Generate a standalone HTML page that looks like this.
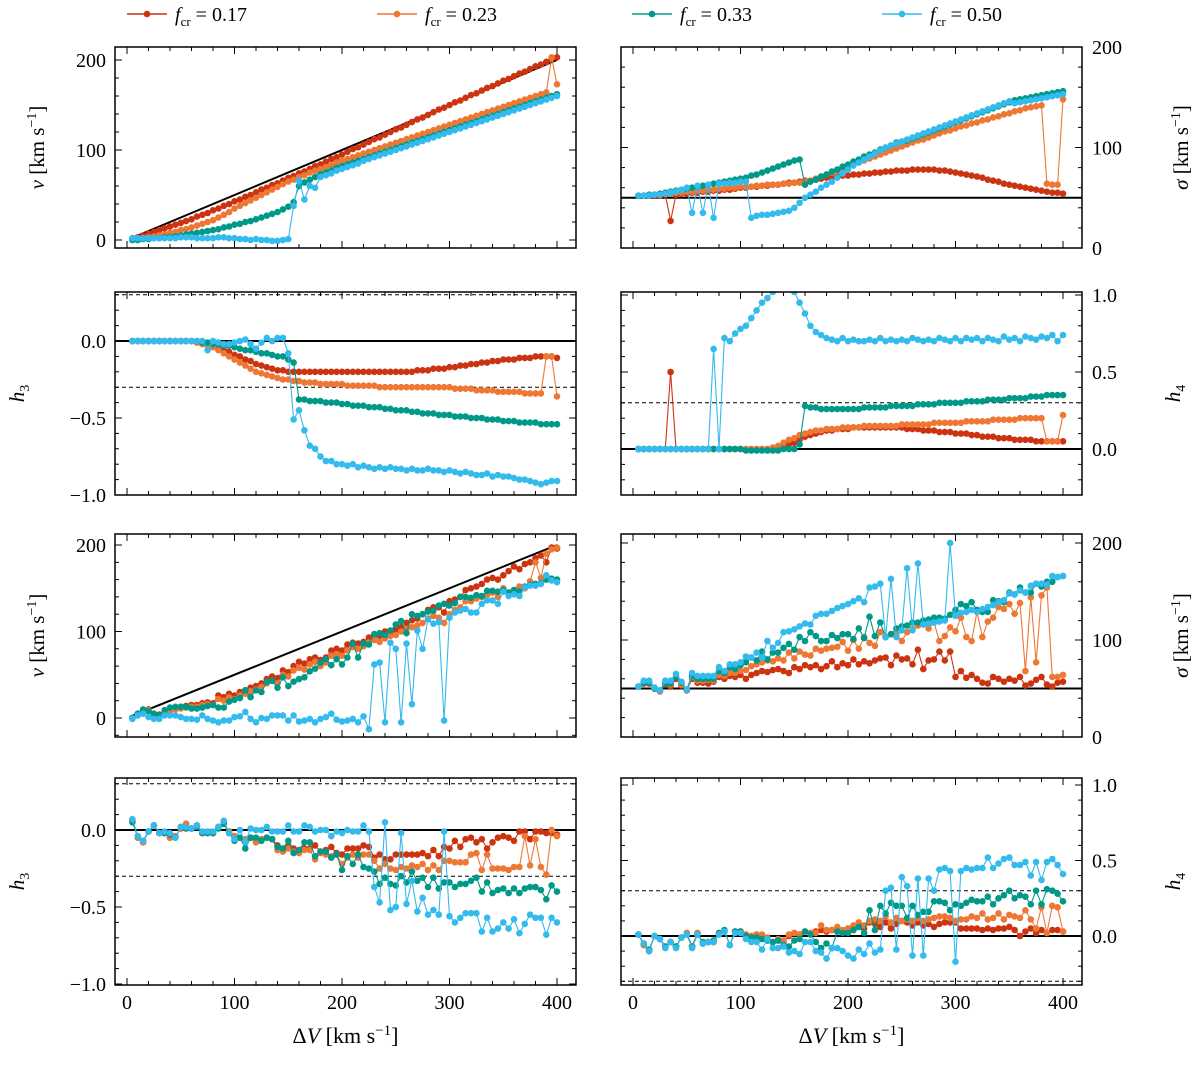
<!DOCTYPE html>
<html><head><meta charset="utf-8"><style>
body{margin:0;background:#fff}
svg text{font-family:"Liberation Serif",serif;fill:#000}
</style></head><body>
<svg id="fig" width="1200" height="1060" viewBox="0 0 1200 1060" xmlns="http://www.w3.org/2000/svg">
<g id="legend"></g>
<g id="panels"></g>
</svg>
<script>
const xs = [];
for (let i = 1; i <= 80; i++) xs.push(5 * i);
const seriesNames = ["0.17", "0.23", "0.33", "0.50"];
const colors = ["#cc3311", "#ee7733", "#009988", "#33bbee"];

// Panel 1: v (top left)
const p1_red = [2,3,5,7,9,11,13,15,17,19,21,23,26,28,30,33,35,38,40,43,45,48,50,53,56,58,61,63,66,69,71,74,76,79,82,84,87,90,92,95,98,101,103,106,109,112,114,117,120,123,125,128,131,134,136,139,142,145,147,150,153,155,158,161,163,166,169,171,174,177,179,182,185,187,190,193,195,198,201,203];
const p1_orange = [1,1,2,3,4,5,6,8,9,11,12,14,16,18,20,22,25,28,31,35,38,41,44,47,50,53,56,59,62,65,67,70,72,75,77,79,81,83,86,88,90,92,94,96,98,100,102,104,106,108,110,112,114,116,118,120,122,124,126,128,130,132,134,136,138,140,142,144,146,148,150,152,154,156,158,160,162,164,203,173];
const p1_teal = [0,0,1,1,2,2,3,3,4,5,6,7,8,9,10,11,12,14,15,17,18,20,21,23,25,27,29,31,34,37,42,60,64,67,70,73,75,77,80,82,84,86,88,90,92,94,96,98,100,102,104,106,108,110,112,114,116,118,120,122,124,126,128,130,132,134,136,138,140,142,144,146,148,150,152,154,156,158,160,162];
const p1_blue = [2,2,2,2,2,2,2,2,2,3,3,3,2,2,2,2,3,3,2,2,1,1,0,1,0,0,-1,-1,0,1,38,66,45,60,58,70,72,74,77,79,81,83,85,88,90,92,94,96,98,100,102,104,106,108,110,112,114,116,118,120,122,124,126,128,130,132,134,136,138,140,142,144,146,148,150,152,154,156,158,160];
// Panel 2: sigma (top right)
const p2_red = [52,52,52,52,52,53,27,53,54,54,55,55,56,56,57,57,58,58,59,60,60,61,61,62,62,63,63,64,65,65,66,67,67,68,69,70,70,71,72,72,73,73,74,74,75,75,76,76,77,77,77,78,78,78,78,78,77,77,76,75,74,73,72,71,70,68,67,66,64,63,62,61,60,59,58,57,56,55,55,54];
const p2_orange = [52,52,52,53,53,54,54,55,55,56,56,57,57,58,58,59,59,60,60,61,61,61,62,62,63,63,63,64,64,65,65,66,67,69,71,73,75,77,79,81,83,85,87,89,91,93,95,97,99,101,103,105,107,108,110,112,114,116,117,119,121,122,124,125,127,128,130,131,133,134,136,137,139,140,141,142,64,63,63,148];
const p2_teal = [52,52,53,53,54,55,56,57,58,59,60,61,62,63,64,65,66,67,68,69,70,72,73,75,77,79,81,83,85,87,88,63,66,68,71,73,76,78,81,83,86,88,91,93,95,98,100,102,105,106,107,109,111,113,115,117,119,121,123,125,127,129,131,133,135,137,139,141,143,145,147,148,149,150,151,152,153,154,155,156];
const p2_blue = [52,52,52,53,53,54,55,56,58,60,35,62,35,63,30,64,64,65,65,66,66,30,32,33,33,34,35,36,37,40,45,50,53,56,60,63,66,70,74,78,82,85,88,91,94,97,100,102,104,106,108,110,112,114,116,118,120,122,124,126,128,130,132,134,136,138,140,142,144,146,144,145,146,147,148,149,150,151,152,153];
// Panel 3: h3 (row 2 left)
const p3_red = [0,0,0,0,0,0,0,0,0,0,0,0,-.01,-.01,-.02,-.03,-.04,-.06,-.07,-.09,-.1,-.12,-.13,-.15,-.16,-.17,-.18,-.19,-.19,-.2,-.2,-.2,-.2,-.2,-.2,-.2,-.2,-.2,-.2,-.2,-.2,-.2,-.2,-.2,-.2,-.2,-.2,-.2,-.2,-.2,-.2,-.2,-.2,-.19,-.19,-.19,-.18,-.18,-.18,-.17,-.17,-.16,-.16,-.15,-.15,-.14,-.14,-.13,-.13,-.12,-.12,-.12,-.11,-.11,-.11,-.1,-.1,-.1,-.1,-.11];
const p3_orange = [0,0,0,0,0,0,0,0,0,0,0,0,-.01,-.02,-.03,-.04,-.06,-.08,-.1,-.12,-.14,-.16,-.18,-.2,-.21,-.22,-.23,-.24,-.25,-.25,-.26,-.26,-.27,-.27,-.27,-.28,-.28,-.28,-.28,-.28,-.29,-.29,-.29,-.29,-.29,-.29,-.3,-.3,-.3,-.3,-.3,-.3,-.3,-.3,-.3,-.3,-.3,-.3,-.3,-.3,-.31,-.31,-.31,-.31,-.32,-.32,-.32,-.32,-.33,-.33,-.33,-.33,-.33,-.34,-.34,-.34,-.34,-.1,-.1,-.36];
const p3_teal = [0,0,0,0,0,0,0,0,0,0,0,0,0,-.01,-.01,-.02,-.02,-.03,-.03,-.04,-.05,-.06,-.06,-.07,-.08,-.08,-.09,-.1,-.1,-.12,-.14,-.38,-.38,-.39,-.39,-.39,-.4,-.4,-.4,-.41,-.41,-.42,-.42,-.42,-.43,-.43,-.43,-.44,-.44,-.45,-.45,-.45,-.46,-.46,-.47,-.47,-.47,-.48,-.48,-.48,-.49,-.49,-.49,-.5,-.5,-.5,-.51,-.51,-.51,-.52,-.52,-.52,-.53,-.53,-.53,-.53,-.54,-.54,-.54,-.54];
const p3_blue = [0,0,0,0,0,0,0,0,0,0,0,0,0,0,-.06,0,-.01,-.02,-.02,-.01,0,.01,-.02,-.05,-.01,.02,0,.02,.02,-.08,-.51,-.45,-.58,-.68,-.7,-.75,-.78,-.78,-.8,-.8,-.81,-.8,-.82,-.81,-.82,-.83,-.82,-.83,-.82,-.83,-.83,-.84,-.83,-.84,-.84,-.83,-.84,-.84,-.85,-.84,-.85,-.86,-.85,-.86,-.87,-.87,-.86,-.88,-.87,-.88,-.88,-.89,-.9,-.9,-.91,-.92,-.93,-.92,-.91,-.91];
// Panel 4: h4 (row 2 right)
const p4_red = [0,0,0,0,0,0,.5,0,0,0,0,0,0,0,0,0,0,0,0,0,0,0,0,0,0,0,.01,.02,.03,.04,.06,.08,.09,.1,.11,.12,.12,.13,.13,.13,.14,.14,.14,.14,.14,.14,.14,.14,.14,.14,.13,.13,.13,.12,.12,.12,.11,.11,.11,.1,.1,.1,.09,.09,.08,.08,.08,.07,.07,.07,.06,.06,.06,.06,.05,.05,.05,.05,.05,.05];
const p4_orange = [0,0,0,0,0,0,0,0,0,0,0,0,0,0,0,0,0,0,0,0,0,0,0,0,0,.01,.02,.04,.06,.07,.09,.1,.11,.12,.12,.13,.13,.13,.14,.14,.14,.14,.15,.15,.15,.15,.15,.15,.15,.16,.16,.16,.16,.16,.16,.17,.17,.17,.17,.17,.17,.18,.18,.18,.18,.18,.19,.19,.19,.19,.19,.2,.2,.2,.2,.2,.05,.05,.05,.22];
const p4_teal = [0,0,0,0,0,0,0,0,0,0,0,0,0,0,0,0,0,0,0,0,-.01,-.01,-.01,-.01,-.01,-.01,-.01,0,0,0,.03,.28,.27,.27,.26,.26,.26,.26,.26,.26,.26,.26,.27,.27,.27,.27,.27,.28,.28,.28,.28,.28,.29,.29,.29,.29,.3,.3,.3,.3,.3,.31,.31,.31,.31,.32,.32,.32,.32,.33,.33,.33,.33,.34,.34,.34,.35,.35,.35,.35];
const p4_blue = [0,0,0,0,0,0,0,0,0,0,0,0,0,0,.65,0,.72,.7,.75,.78,.8,.85,.9,.95,.98,1.02,1.05,1.05,1.05,1.02,.95,.88,.8,.76,.74,.72,.71,.7,.72,.7,.71,.7,.7,.71,.7,.72,.7,.71,.7,.71,.7,.72,.71,.7,.71,.7,.72,.71,.7,.72,.7,.72,.71,.72,.7,.72,.71,.7,.73,.71,.72,.7,.73,.72,.71,.73,.72,.74,.7,.74];
// Panel 5: v (row 3 left)
const p5_red = [0,5,8,10,5,4,7,10,12,13,14,15,15,17,18,17,26,24,28,26,30,32,35,37,40,45,48,46,55,53,60,65,63,68,70,67,70,78,80,78,85,87,86,88,93,96,95,100,100,102,105,110,113,115,120,125,128,128,122,135,137,140,148,150,152,155,160,162,160,165,170,175,172,178,180,185,188,180,197,196];
const p5_orange = [0,4,7,9,4,3,6,8,10,11,12,13,13,15,16,15,22,20,24,22,26,28,31,33,36,40,43,40,50,48,55,58,56,62,65,60,64,72,74,72,78,82,80,83,87,90,88,92,95,96,100,103,105,107,110,115,118,116,110,120,125,128,135,135,138,140,142,145,140,150,145,148,152,150,158,180,162,190,195,197];
const p5_teal = [0,5,10,8,5,3,9,12,13,13,13,11,11,12,14,15,12,12,19,21,23,32,24,32,30,42,43,35,47,37,42,45,47,54,57,64,68,61,68,62,70,86,70,86,85,97,98,96,101,108,112,98,120,118,120,123,124,130,132,130,133,140,140,139,142,141,147,147,146,148,145,148,146,152,154,155,156,160,161,160];
const p5_blue = [-1,3,5,1,-1,-1,3,3,3,1,-1,-1,-2,3,-1,-3,-5,-3,-3,1,2,7,-1,-5,0,-1,3,3,3,-3,3,-4,-3,-1,-5,-1,1,5,-2,-4,-3,-1,-5,2,-13,62,64,-5,87,80,-5,86,16,101,80,114,109,111,-3,116,122,124,126,122,122,132,136,136,132,146,141,143,141,151,153,153,155,165,159,157];
// Panel 6: sigma (row 3 right)
const p6_red = [52,55,55,50,47,54,52,60,53,48,60,56,56,55,57,62,60,63,62,64,60,64,66,68,67,69,70,68,66,72,70,74,72,74,70,73,78,72,76,74,80,75,78,76,79,81,82,74,84,80,81,75,90,70,79,80,88,79,88,62,68,61,64,60,56,55,62,60,57,60,58,62,53,55,59,62,54,52,56,57];
const p6_orange = [52,56,56,50,47,55,54,62,54,48,62,58,58,59,58,64,63,66,66,68,69,73,75,77,79,78,81,79,87,81,88,85,84,91,89,91,92,93,98,89,100,91,103,97,94,108,103,106,106,99,108,111,115,117,112,118,99,104,113,109,123,103,99,129,103,119,123,134,132,137,127,138,68,144,77,146,154,62,62,64];
const p6_teal = [52,56,56,50,48,55,55,62,56,49,63,60,60,60,60,68,66,72,70,74,77,82,79,88,80,87,87,92,96,90,103,99,108,104,99,99,105,102,106,106,101,112,102,124,104,118,103,106,112,114,115,118,118,120,121,123,123,122,126,131,137,135,139,131,129,129,141,140,139,149,147,154,149,149,158,155,160,160,165,166];
const p6_blue = [52,58,58,51,48,58,58,65,57,49,66,63,63,63,63,72,68,75,75,77,83,82,87,82,99,92,97,108,109,111,114,117,116,125,127,127,130,133,135,137,140,143,139,154,155,158,103,163,103,110,174,110,179,116,117,118,119,120,200,125,128,129,131,129,132,134,136,139,141,148,147,151,149,156,158,158,157,166,165,166];
// Panel 7: h3 (bottom left)
const p7_red = [.06,-.05,-.08,-.01,.03,-.02,-.02,-.05,-.04,.01,.04,.01,.03,-.02,-.02,-.02,.02,.04,-.01,-.04,-.05,-.06,-.05,-.07,-.06,-.05,-.06,-.1,-.12,-.1,-.12,-.14,-.12,-.12,-.1,-.14,-.13,-.11,-.15,-.16,-.12,-.12,-.12,-.1,-.11,-.18,-.16,-.19,-.19,-.16,-.16,-.16,-.16,-.16,-.15,-.17,-.13,-.17,-.11,-.12,-.07,-.11,-.06,-.05,-.08,-.06,-.12,-.08,-.05,-.04,-.05,-.07,-.01,-.01,-.06,-.01,-.01,-.02,-.02,-.03];
const p7_orange = [.06,-.05,-.08,-.01,.03,-.02,-.02,-.05,-.04,.01,.04,.01,.03,-.02,-.02,-.02,.02,.04,-.01,-.04,-.05,-.06,-.05,-.08,-.06,-.05,-.06,-.13,-.14,-.12,-.14,-.15,-.13,-.13,-.19,-.15,-.16,-.17,-.16,-.22,-.18,-.16,-.18,-.16,-.16,-.2,-.25,-.22,-.25,-.26,-.24,-.25,-.23,-.24,-.22,-.26,-.23,-.26,-.2,-.2,-.21,-.21,-.21,-.16,-.15,-.26,-.16,-.25,-.25,-.25,-.26,-.24,-.24,-.04,-.23,-.06,-.24,-.29,0,-.04];
const p7_teal = [.05,-.04,-.07,-.01,.03,-.02,-.02,-.03,-.05,.02,.01,.01,.02,-.02,-.02,-.02,.01,.04,-.02,-.07,-.05,-.12,-.05,-.05,-.07,-.05,-.06,-.11,-.12,-.07,-.15,-.13,-.08,-.08,-.17,-.14,-.14,-.18,-.16,-.26,-.17,-.22,-.16,-.24,-.25,-.27,-.35,-.31,-.35,-.36,-.3,-.34,-.27,-.33,-.31,-.37,-.31,-.38,-.34,-.34,-.37,-.35,-.35,-.33,-.31,-.4,-.34,-.41,-.39,-.38,-.41,-.38,-.41,-.38,-.37,-.37,-.39,-.45,-.36,-.4];
const p7_blue = [.07,-.04,-.07,-.01,.03,-.02,-.01,-.02,-.05,.02,.02,.01,.03,-.01,-.01,-.01,.02,.06,-.02,-.06,0,-.08,.01,0,0,.02,-.01,-.01,-.01,.03,-.01,-.01,.03,.02,-.01,0,0,-.04,-.01,-.02,0,-.01,-.01,.03,-.01,-.37,-.47,.05,-.52,-.5,-.02,-.48,-.33,-.53,-.44,-.55,-.52,-.55,-.01,-.56,-.6,-.57,-.54,-.54,-.54,-.66,-.57,-.66,-.64,-.6,-.64,-.58,-.67,-.61,-.55,-.57,-.57,-.68,-.57,-.6];
// Panel 8: h4 (bottom right)
const p8_red = [.01,-.06,-.1,0,-.02,-.07,-.04,-.07,-.01,.02,-.07,.02,-.05,-.04,-.04,.02,.03,-.06,.03,.03,.01,0,.01,0,-.02,-.04,-.03,-.04,0,.02,.01,.03,.02,.03,.04,.03,.04,.03,.03,.05,.04,.06,.05,.09,.08,.06,.09,.05,.08,.1,.09,.07,.09,.07,.08,.06,.08,.09,.09,.09,.05,.05,.05,.05,.04,.05,.04,.05,.05,.06,.04,0,.03,.05,.02,.04,.02,.04,.04,.03];
const p8_orange = [.01,-.06,-.1,0,-.02,-.07,-.04,-.07,-.01,.02,-.07,.02,-.05,-.04,-.04,.02,.03,-.06,.03,.03,.01,0,.01,.01,-.01,-.04,-.02,-.03,.01,.02,.01,.03,.02,.02,.07,.04,.04,.06,.04,.05,.07,.09,.07,.1,.11,.1,.13,.09,.12,.1,.11,.1,.12,.1,.11,.12,.13,.13,.12,.1,.11,.11,.13,.12,.15,.11,.12,.15,.11,.14,.13,.12,.17,.11,.05,.19,.02,.2,.19,.03];
const p8_teal = [.01,-.05,-.09,0,-.02,-.07,-.04,-.07,-.01,.01,-.07,.01,-.04,-.04,-.03,.02,.04,-.06,.03,.03,0,-.01,-.01,-.02,-.03,-.04,-.03,-.06,-.07,-.03,-.02,.03,.01,-.04,-.08,-.05,-.08,.03,.02,.02,.04,.06,.02,.17,.04,.2,.15,.22,.2,.2,.12,.2,.14,.16,.16,.23,.23,.22,.17,.21,.2,.22,.24,.23,.23,.26,.21,.25,.27,.3,.25,.27,.26,.21,.3,.21,.31,.3,.28,.23];
const p8_blue = [.01,-.05,-.1,0,-.02,-.08,-.04,-.08,-.01,.01,-.08,.01,-.05,-.04,-.04,.01,.03,-.06,.02,.02,-.02,-.04,-.04,-.09,-.02,-.08,-.08,-.07,-.11,-.1,-.12,-.04,-.04,-.1,-.11,-.15,-.08,-.08,-.1,-.13,-.15,-.09,-.12,-.05,-.11,-.09,.3,.32,-.09,.39,.33,-.13,.38,-.13,.38,.3,.44,.45,.43,-.17,.43,.45,.44,.45,.45,.52,.45,.48,.51,.52,.47,.47,.49,.4,.49,.37,.49,.51,.47,.41];

const xTicks = [0, 100, 200, 300, 400];
const vTicks = [0, 100, 200];
const h3Ticks = [-1.0, -0.5, 0.0];
const h4Ticks = [0.0, 0.5, 1.0];

const NS = "http://www.w3.org/2000/svg";
function mk(tag, attrs, parent) {
  const e = document.createElementNS(NS, tag);
  for (const k in attrs) e.setAttribute(k, attrs[k]);
  if (parent) parent.appendChild(e);
  return e;
}

const panels = [
  {id:"v-top-left", L:115, T:47, B:248, y0:240, k:0.9, data:[p1_red,p1_orange,p1_teal,p1_blue], ticks:vTicks, minor:20, right:false, kind:"v", fmt:v=>String(v)},
  {id:"sigma-top-right", L:621, T:47, B:248, y0:248, k:1.005, data:[p2_red,p2_orange,p2_teal,p2_blue], ticks:vTicks, minor:20, right:true, kind:"s", fmt:v=>String(v)},
  {id:"h3-row2-left", L:115, T:292, B:495, y0:341, k:154, data:[p3_red,p3_orange,p3_teal,p3_blue], ticks:h3Ticks, minor:0.1, right:false, kind:"h3", fmt:v=>(v<0?"\u2212":"")+Math.abs(v).toFixed(1)},
  {id:"h4-row2-right", L:621, T:292, B:495, y0:449, k:154, data:[p4_red,p4_orange,p4_teal,p4_blue], ticks:h4Ticks, minor:0.1, right:true, kind:"h4", fmt:v=>v.toFixed(1)},
  {id:"v-row3-left", L:115, T:534, B:737, y0:718, k:0.865, data:[p5_red,p5_orange,p5_teal,p5_blue], ticks:vTicks, minor:20, right:false, kind:"v", fmt:v=>String(v)},
  {id:"sigma-row3-right", L:621, T:534, B:737, y0:737, k:0.97, data:[p6_red,p6_orange,p6_teal,p6_blue], ticks:vTicks, minor:20, right:true, kind:"s", fmt:v=>String(v)},
  {id:"h3-bottom-left", L:115, T:778, B:985, y0:830, k:154, data:[p7_red,p7_orange,p7_teal,p7_blue], ticks:h3Ticks, minor:0.1, right:false, kind:"h3", fmt:v=>(v<0?"\u2212":"")+Math.abs(v).toFixed(1), bottom:true},
  {id:"h4-bottom-right", L:621, T:778, B:985, y0:936, k:151, data:[p8_red,p8_orange,p8_teal,p8_blue], ticks:h4Ticks, minor:0.1, right:true, kind:"h4", fmt:v=>v.toFixed(1), bottom:true},
];
const W = 461;
const root = document.getElementById("panels");
const defs = mk("defs", {}, document.getElementById("fig"));

panels.forEach((p, pi) => {
  const xS = v => p.L + 12 + v * 1.075;
  const yS = v => p.y0 - v * p.k;
  const g = mk("g", {}, root);
  
  
  const cp = mk("clipPath", {id:"cp" + pi}, defs);
  mk("rect", {x:p.L, y:p.T, width:W, height:p.B - p.T}, cp);
  const plot = mk("g", {"clip-path":"url(#cp" + pi + ")"}, g);
  if (p.kind === "v") {
    const ln = mk("line", {x1:xS(5), y1:yS(2.5), x2:xS(400), y2:yS(200), stroke:"#000", "stroke-width":2}, plot);
    
    
  } else if (p.kind === "s") {
    const ln = mk("line", {x1:p.L, y1:yS(50), x2:p.L + W, y2:yS(50), stroke:"#000", "stroke-width":2}, plot);
    
    
  } else {
    const ln = mk("line", {x1:p.L, y1:yS(0), x2:p.L + W, y2:yS(0), stroke:"#000", "stroke-width":2}, plot);
    
    
    [-0.3, 0.3].forEach(d => {
      const dl = mk("line", {x1:p.L, y1:yS(d), x2:p.L + W, y2:yS(d), stroke:"#000", "stroke-width":1, "stroke-dasharray":"4,3"}, plot);
      
      
    });
  }
  p.data.forEach((arr, si) => {
    const sg = mk("g", {}, plot);
    
    
    const pts = arr.map((v, i) => xS(xs[i]).toFixed(1) + "," + yS(v).toFixed(1)).join(" ");
    mk("polyline", {points:pts, fill:"none", stroke:colors[si], "stroke-width":1.1}, sg);
    arr.forEach((v, i) => {
      const c = mk("circle", {cx:xS(xs[i]).toFixed(1), cy:yS(v).toFixed(1), r:3.3, fill:colors[si]}, sg);
      
      
    });
  });
  const fr = mk("rect", {x:p.L, y:p.T, width:W, height:p.B - p.T, fill:"none", stroke:"#000", "stroke-width":1.5}, g);
  
  
  const tk = mk("g", {stroke:"#000", "stroke-width":1}, g);
  for (let v = 0; v <= 410; v += 20) {
    const X = xS(v); if (X < p.L || X > p.L + W) continue;
    const len = v % 100 === 0 ? 7 : 4;
    mk("line", {x1:X, y1:p.B, x2:X, y2:p.B - len}, tk);
    mk("line", {x1:X, y1:p.T, x2:X, y2:p.T + len}, tk);
  }
  if (p.bottom) {
    xTicks.forEach(v => {
      const t = mk("text", {x:xS(v), y:p.B + 24, "font-size":20, "text-anchor":"middle"}, g);
      t.textContent = String(v);
      
      
    });
  }
  const lo = (p.y0 - p.B) / p.k, hi = (p.y0 - p.T) / p.k;
  const st = Math.ceil(lo / p.minor - 1e-6);
  for (let n = st; n * p.minor <= hi + 1e-9; n++) {
    const v = n * p.minor;
    const major = p.ticks.some(t => Math.abs(t - v) < 1e-6) || (p.kind.startsWith("h") ? Math.abs(v / 0.5 - Math.round(v / 0.5)) < 1e-6 : Math.abs(v % 100) < 1e-6);
    const len = major ? 7 : 4;
    const Y = yS(v);
    mk("line", {x1:p.L, y1:Y, x2:p.L + len, y2:Y}, tk);
    mk("line", {x1:p.L + W, y1:Y, x2:p.L + W - len, y2:Y}, tk);
  }
  p.ticks.forEach(v => {
    const t = mk("text", {x:p.right ? p.L + W + 10 : p.L - 9, y:yS(v) + 7, "font-size":20, "text-anchor":p.right ? "start" : "end"}, g);
    t.textContent = p.fmt(v);
    
    
  });
  const cy = (p.T + p.B) / 2;
  const tx = p.right ? (p.kind === "s" ? 1188 : 1180) : (p.kind === "v" ? 44 : 24);
  const t = mk("text", {x:tx, y:cy, "font-size":21, "text-anchor":"middle", transform:"rotate(-90 " + tx + " " + cy + ")"}, g);
  
  
  if (p.kind === "v") t.innerHTML = '<tspan font-style="italic">v</tspan> [km s<tspan dy="-8" font-size="14">\u22121</tspan><tspan dy="8">]</tspan>';
  else if (p.kind === "s") t.innerHTML = '<tspan font-style="italic">\u03c3</tspan> [km s<tspan dy="-8" font-size="14">\u22121</tspan><tspan dy="8">]</tspan>';
  else t.innerHTML = '<tspan font-style="italic">h</tspan><tspan dy="5" font-size="14">' + (p.kind === "h3" ? "3" : "4") + '</tspan>';
  if (p.bottom) {
    const xt = mk("text", {x:p.L + W / 2, y:1043, "font-size":22, "text-anchor":"middle"}, g);
    xt.innerHTML = '\u0394<tspan font-style="italic">V</tspan> [km s<tspan dy="-8" font-size="15">\u22121</tspan><tspan dy="8">]</tspan>';
    
    
  }
});

const lg = document.getElementById("legend");
const lx = [127, 377, 632, 882];
seriesNames.forEach((n, i) => {
  const e = mk("g", {}, lg);
  
  
  mk("line", {x1:lx[i], y1:14, x2:lx[i] + 40, y2:14, stroke:colors[i], "stroke-width":1.5}, e);
  mk("circle", {cx:lx[i] + 20, cy:14, r:3.3, fill:colors[i]}, e);
  const t = mk("text", {x:lx[i] + 48, y:21, "font-size":20}, e);
  t.innerHTML = '<tspan font-style="italic">f</tspan><tspan dy="5" font-size="13">cr</tspan><tspan dy="-5"> = ' + n + '</tspan>';
});
</script>
</body></html>
